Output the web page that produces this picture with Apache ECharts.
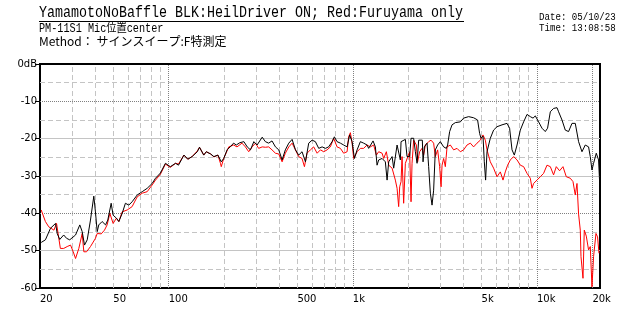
<!DOCTYPE html>
<html><head><meta charset="utf-8">
<script src="https://cdn.jsdelivr.net/npm/echarts@6/dist/echarts.min.js"></script>
<style>html,body{margin:0;padding:0;background:#fff}#c{width:640px;height:320px}</style>
</head><body><div id="c"></div>
<script>
const blackFreq = [20.3,21.4,22.8,24.3,24.8,25.6,26.9,27.9,29.0,31.2,32.9,33.9,34.9,36.1,37.6,39.2,40.0,40.9,41.7,43.5,45.4,46.7,48.7,49.9,52.0,53.6,55.9,58.2,60.7,63.3,67.4,71.8,76.4,81.3,84.8,90.2,96.0,102,109,113,121,127,134,143,147,155,160,169,176,185,193,199,208,216,225,233,243,256,267,278,290,302,322,335,349,364,380,396,413,430,449,468,488,508,530,553,576,601,626,653,681,710,739,772,794,821,856,892,931,961,991,1020,1055,1099,1145,1195,1219,1288,1326,1354,1382,1442,1502,1535,1566,1634,1667,1739,1774,1812,1828,1929,1970,2035,2071,2140,2186,2233,2278,2385,2406,2446,2530,2581,2637,2693,2747,2806,2888,2988,3113,3220,3273,3356,3458,3604,3836,3997,4255,4529,4761,4882,4968,5094,5177,5262,5355,5580,5815,6068,6460,6878,7104,7322,7536,7795,8123,8465,8832,9205,9521,9798,10210,10650,11100,11420,11820,12310,12850,13110,13680,14250,14850,15500,16150,16830,17560,18300,19070,19480,19900,20300,21000,21610,22000];
const blackDb = [-47.8,-47.1,-44.0,-42.7,-45.4,-47.0,-45.8,-46.7,-47.1,-45.8,-43.1,-44.9,-48.5,-47.1,-41.8,-35.4,-39.6,-44.9,-43.1,-42.2,-43.1,-41.8,-37.3,-40.5,-41.3,-42.2,-40.0,-37.3,-37.8,-36.9,-35.1,-34.2,-33.3,-32.0,-30.6,-29.2,-26.6,-27.5,-26.6,-27.1,-24.4,-25.5,-24.8,-23.5,-22.3,-24.4,-23.5,-24.1,-24.8,-24.4,-26.2,-25.3,-22.9,-22.2,-21.2,-21.7,-21.1,-20.8,-22.2,-23.0,-20.8,-21.7,-19.6,-20.8,-21.2,-20.6,-22.2,-23.0,-25.7,-23.0,-21.2,-20.2,-23.0,-24.4,-23.5,-26.2,-21.2,-20.4,-20.8,-22.6,-22.2,-22.6,-22.2,-20.8,-19.5,-20.8,-21.2,-21.7,-22.2,-19.0,-20.8,-25.3,-23.0,-20.8,-21.2,-21.7,-22.6,-20.6,-22.2,-27.1,-25.7,-25.3,-26.2,-31.1,-26.2,-24.8,-27.9,-21.7,-21.2,-25.7,-20.8,-20.2,-24.8,-24.8,-19.9,-19.9,-23.5,-26.6,-20.4,-20.4,-26.2,-22.2,-21.2,-27.5,-34.6,-37.8,-33.8,-23.0,-21.7,-20.8,-22.2,-22.6,-21.7,-18.1,-16.3,-15.7,-15.5,-14.5,-14.1,-14.4,-15.0,-18.6,-19.9,-19.3,-26.2,-31.1,-23.5,-19.9,-17.7,-16.8,-16.3,-15.9,-17.2,-23.0,-24.4,-21.7,-17.7,-15.5,-13.5,-14.1,-14.5,-13.9,-15.5,-17.2,-18.1,-17.2,-12.8,-11.9,-11.7,-12.8,-15.0,-17.7,-18.1,-15.9,-15.9,-20.8,-23.5,-21.7,-22.2,-24.8,-28.4,-26.6,-23.9,-25.7,-33.8];
const redFreq = [20.3,21.4,22.3,23.8,24.6,25.8,26.9,28.1,29.3,30.3,31.2,32.5,33.9,34.6,35.8,37.6,40.0,40.9,43.0,44.8,46.3,47.9,49.9,52.0,53.6,55.9,59.5,63.3,67.4,71.8,76.4,81.3,84.8,90.2,96.0,102,109,113,121,127,134,143,147,155,160,169,176,185,191,193,199,212,225,235,250,261,272,284,296,308,322,335,349,364,380,396,413,430,449,468,488,508,530,546,564,588,613,640,667,695,725,755,787,821,856,892,931,949,970,991,1011,1055,1099,1145,1195,1245,1298,1342,1382,1442,1471,1521,1566,1634,1702,1739,1774,1797,1828,1851,1888,1929,2035,2071,2097,2140,2213,2249,2306,2376,2424,2476,2581,2659,2747,2806,2888,2962,3014,3052,3113,3180,3249,3385,3528,3681,3836,3997,4171,4347,4529,4726,4925,5094,5244,5355,5580,5815,6068,6325,6541,6732,6929,7167,7469,7795,8123,8465,8832,9205,9399,9589,10006,10428,10866,11338,11820,12310,12736,13272,13848,14432,15172,15694,16150,16500,16830,17194,17345,17784,18075,18532,19070,19480,19900,20300,20922,21343,21722];
const redDb = [-39.1,-42.2,-43.6,-44.5,-42.7,-49.4,-49.4,-48.9,-48.5,-50.3,-52.1,-49.4,-45.4,-50.3,-50.3,-48.9,-46.7,-45.4,-45.5,-44.5,-43.1,-40.0,-42.7,-41.3,-42.2,-39.6,-39.1,-38.2,-35.6,-34.6,-34.2,-32.4,-31.1,-29.5,-26.8,-27.7,-26.6,-26.8,-24.4,-25.5,-24.8,-23.3,-22.3,-24.4,-23.5,-24.1,-24.9,-24.4,-26.6,-27.5,-25.3,-22.2,-21.7,-22.2,-21.2,-22.2,-23.5,-22.2,-21.2,-22.6,-22.2,-22.3,-22.2,-23.0,-23.9,-24.1,-26.2,-23.9,-22.2,-21.2,-23.0,-24.8,-25.3,-27.5,-23.9,-23.0,-22.2,-23.9,-23.0,-23.5,-23.0,-22.2,-19.9,-22.2,-22.6,-23.9,-23.5,-19.5,-18.4,-21.2,-25.3,-23.5,-22.6,-22.6,-21.7,-22.2,-21.7,-24.4,-23.5,-23.9,-25.3,-23.5,-27.1,-27.9,-31.1,-33.3,-38.2,-32.9,-31.5,-24.8,-37.3,-26.6,-23.5,-36.9,-26.6,-20.4,-21.7,-26.2,-23.5,-22.6,-24.4,-21.7,-20.8,-20.4,-21.2,-24.8,-23.0,-27.5,-32.9,-27.1,-25.3,-27.5,-22.2,-21.7,-23.0,-22.6,-23.5,-23.0,-21.7,-21.2,-22.2,-21.2,-20.4,-19.0,-20.4,-23.0,-26.2,-27.9,-30.2,-28.9,-31.1,-28.9,-27.1,-25.7,-24.8,-25.7,-27.1,-27.5,-29.3,-30.6,-33.3,-32.0,-31.1,-30.2,-29.3,-27.1,-27.5,-29.7,-27.5,-28.6,-27.5,-30.2,-30.6,-31.5,-35.1,-32.0,-40.2,-44.5,-51.6,-57.4,-44.5,-46.1,-49.8,-48.9,-59.7,-51.6,-45.4,-46.3,-50.7];

const xTickValues = [20, 50, 100, 500, 1000, 5000, 10000, 20000];
const xTickLabels = ['20', '50', '100', '500', '1k', '5k', '10k', '20k'];
const xMajorGrid = [100, 1000, 10000, 20000];
const xMinorGrid = [30,40,50,60,70,80,90,200,300,400,500,600,700,800,900,2000,3000,4000,5000,6000,7000,8000,9000];
const yDashedGrid = [-5,-15,-25,-35,-45,-55];
const yDottedGrid = [-10,-40];
const ySolidGrid = [-20,-30,-50];

const titleText = 'YamamotoNoBaffle BLK:HeilDriver ON; Red:Furuyama only';
const subText1 = 'PM-11S1 Mic位置center';
const subText2 = 'Method： サインスイープ:F特測定';
const dateText = 'Date: 05/10/23';
const timeText = 'Time: 13:08:58';

const zip = (a, b) => a.map((v, i) => [v, b[i]]);
const dashed = {color: '#c4c4c4', width: 1, type: [5, 3]};
const dotted = {color: '#808080', width: 1, type: [1, 1]};
const solid = {color: '#c4c4c4', width: 1, type: 'solid'};
const gridLines = [].concat(
  xMinorGrid.map(v => ({xAxis: v, lineStyle: dashed})),
  yDashedGrid.map(v => ({yAxis: v, lineStyle: dashed})),
  ySolidGrid.map(v => ({yAxis: v, lineStyle: solid})),
  xMajorGrid.map(v => ({xAxis: v, lineStyle: dotted})),
  yDottedGrid.map(v => ({yAxis: v, lineStyle: dotted}))
);

const chart = echarts.init(document.getElementById('c'), null, {renderer: 'canvas'});
chart.setOption({
  animation: false,
  backgroundColor: '#fff',
  grid: {left: 40, right: 40, top: 64, bottom: 32, show: true, borderColor: '#000', borderWidth: 2, backgroundColor: 'transparent'},
  xAxis: {
    type: 'log', logBase: 10, min: 20, max: 22000,
    axisLine: {show: true, lineStyle: {color: '#000', width: 2}},
    axisTick: {show: false},
    splitLine: {show: false},
    axisLabel: {
      customValues: xTickValues,
      formatter: v => { const i = xTickValues.indexOf(Math.round(v)); return i >= 0 ? xTickLabels[i] : ''; },
      color: '#000', fontFamily: 'DejaVu Sans', fontSize: 10, align: 'left', margin: 6
    }
  },
  yAxis: {
    type: 'value', min: -60, max: 0, interval: 10,
    axisLine: {show: true, lineStyle: {color: '#000', width: 2}},
    axisTick: {show: true, length: 5, lineStyle: {color: '#000'}},
    splitLine: {show: false},
    axisLabel: {formatter: v => v === 0 ? '0dB' : String(v), color: '#000', fontFamily: 'DejaVu Sans', fontSize: 10, margin: 3}
  },
  series: [
    {type: 'line', name: 'grid', data: [], z: 1, silent: true,
     markLine: {silent: true, symbol: 'none', animation: false, z: 1, label: {show: false}, data: gridLines}},
    {type: 'line', name: 'Furuyama only', data: zip(redFreq, redDb), showSymbol: false, z: 3,
     lineStyle: {color: '#ff0000', width: 1}, itemStyle: {color: '#ff0000'}},
    {type: 'line', name: 'HeilDriver ON', data: zip(blackFreq, blackDb), showSymbol: false, z: 4,
     lineStyle: {color: '#000000', width: 1}, itemStyle: {color: '#000000'}}
  ],
  graphic: [
    {type: 'text', x: 39, y: 13, scaleX: 0.833, style: {text: titleText, font: '16px "Liberation Mono"', fill: '#000', textAlign: 'left', textVerticalAlign: 'middle'}},
    {type: 'line', shape: {x1: 39, y1: 21.5, x2: 464, y2: 21.5}, style: {stroke: '#000', lineWidth: 1}},
    {type: 'text', x: 39, y: 28.5, scaleX: 0.85, style: {text: subText1, font: '12px "Liberation Mono", "Noto Sans CJK JP"', fill: '#000', textAlign: 'left', textVerticalAlign: 'middle'}},
    {type: 'text', x: 39, y: 41, style: {text: subText2, font: '12px "Noto Sans CJK JP"', fill: '#000', textAlign: 'left', textVerticalAlign: 'middle'}},
    {type: 'text', x: 539, y: 17.5, scaleX: 0.83, style: {text: dateText, font: '11px "Liberation Mono"', fill: '#000', textAlign: 'left', textVerticalAlign: 'middle'}},
    {type: 'text', x: 539, y: 28, scaleX: 0.83, style: {text: timeText, font: '11px "Liberation Mono"', fill: '#000', textAlign: 'left', textVerticalAlign: 'middle'}}
  ]
});
</script></body></html>
